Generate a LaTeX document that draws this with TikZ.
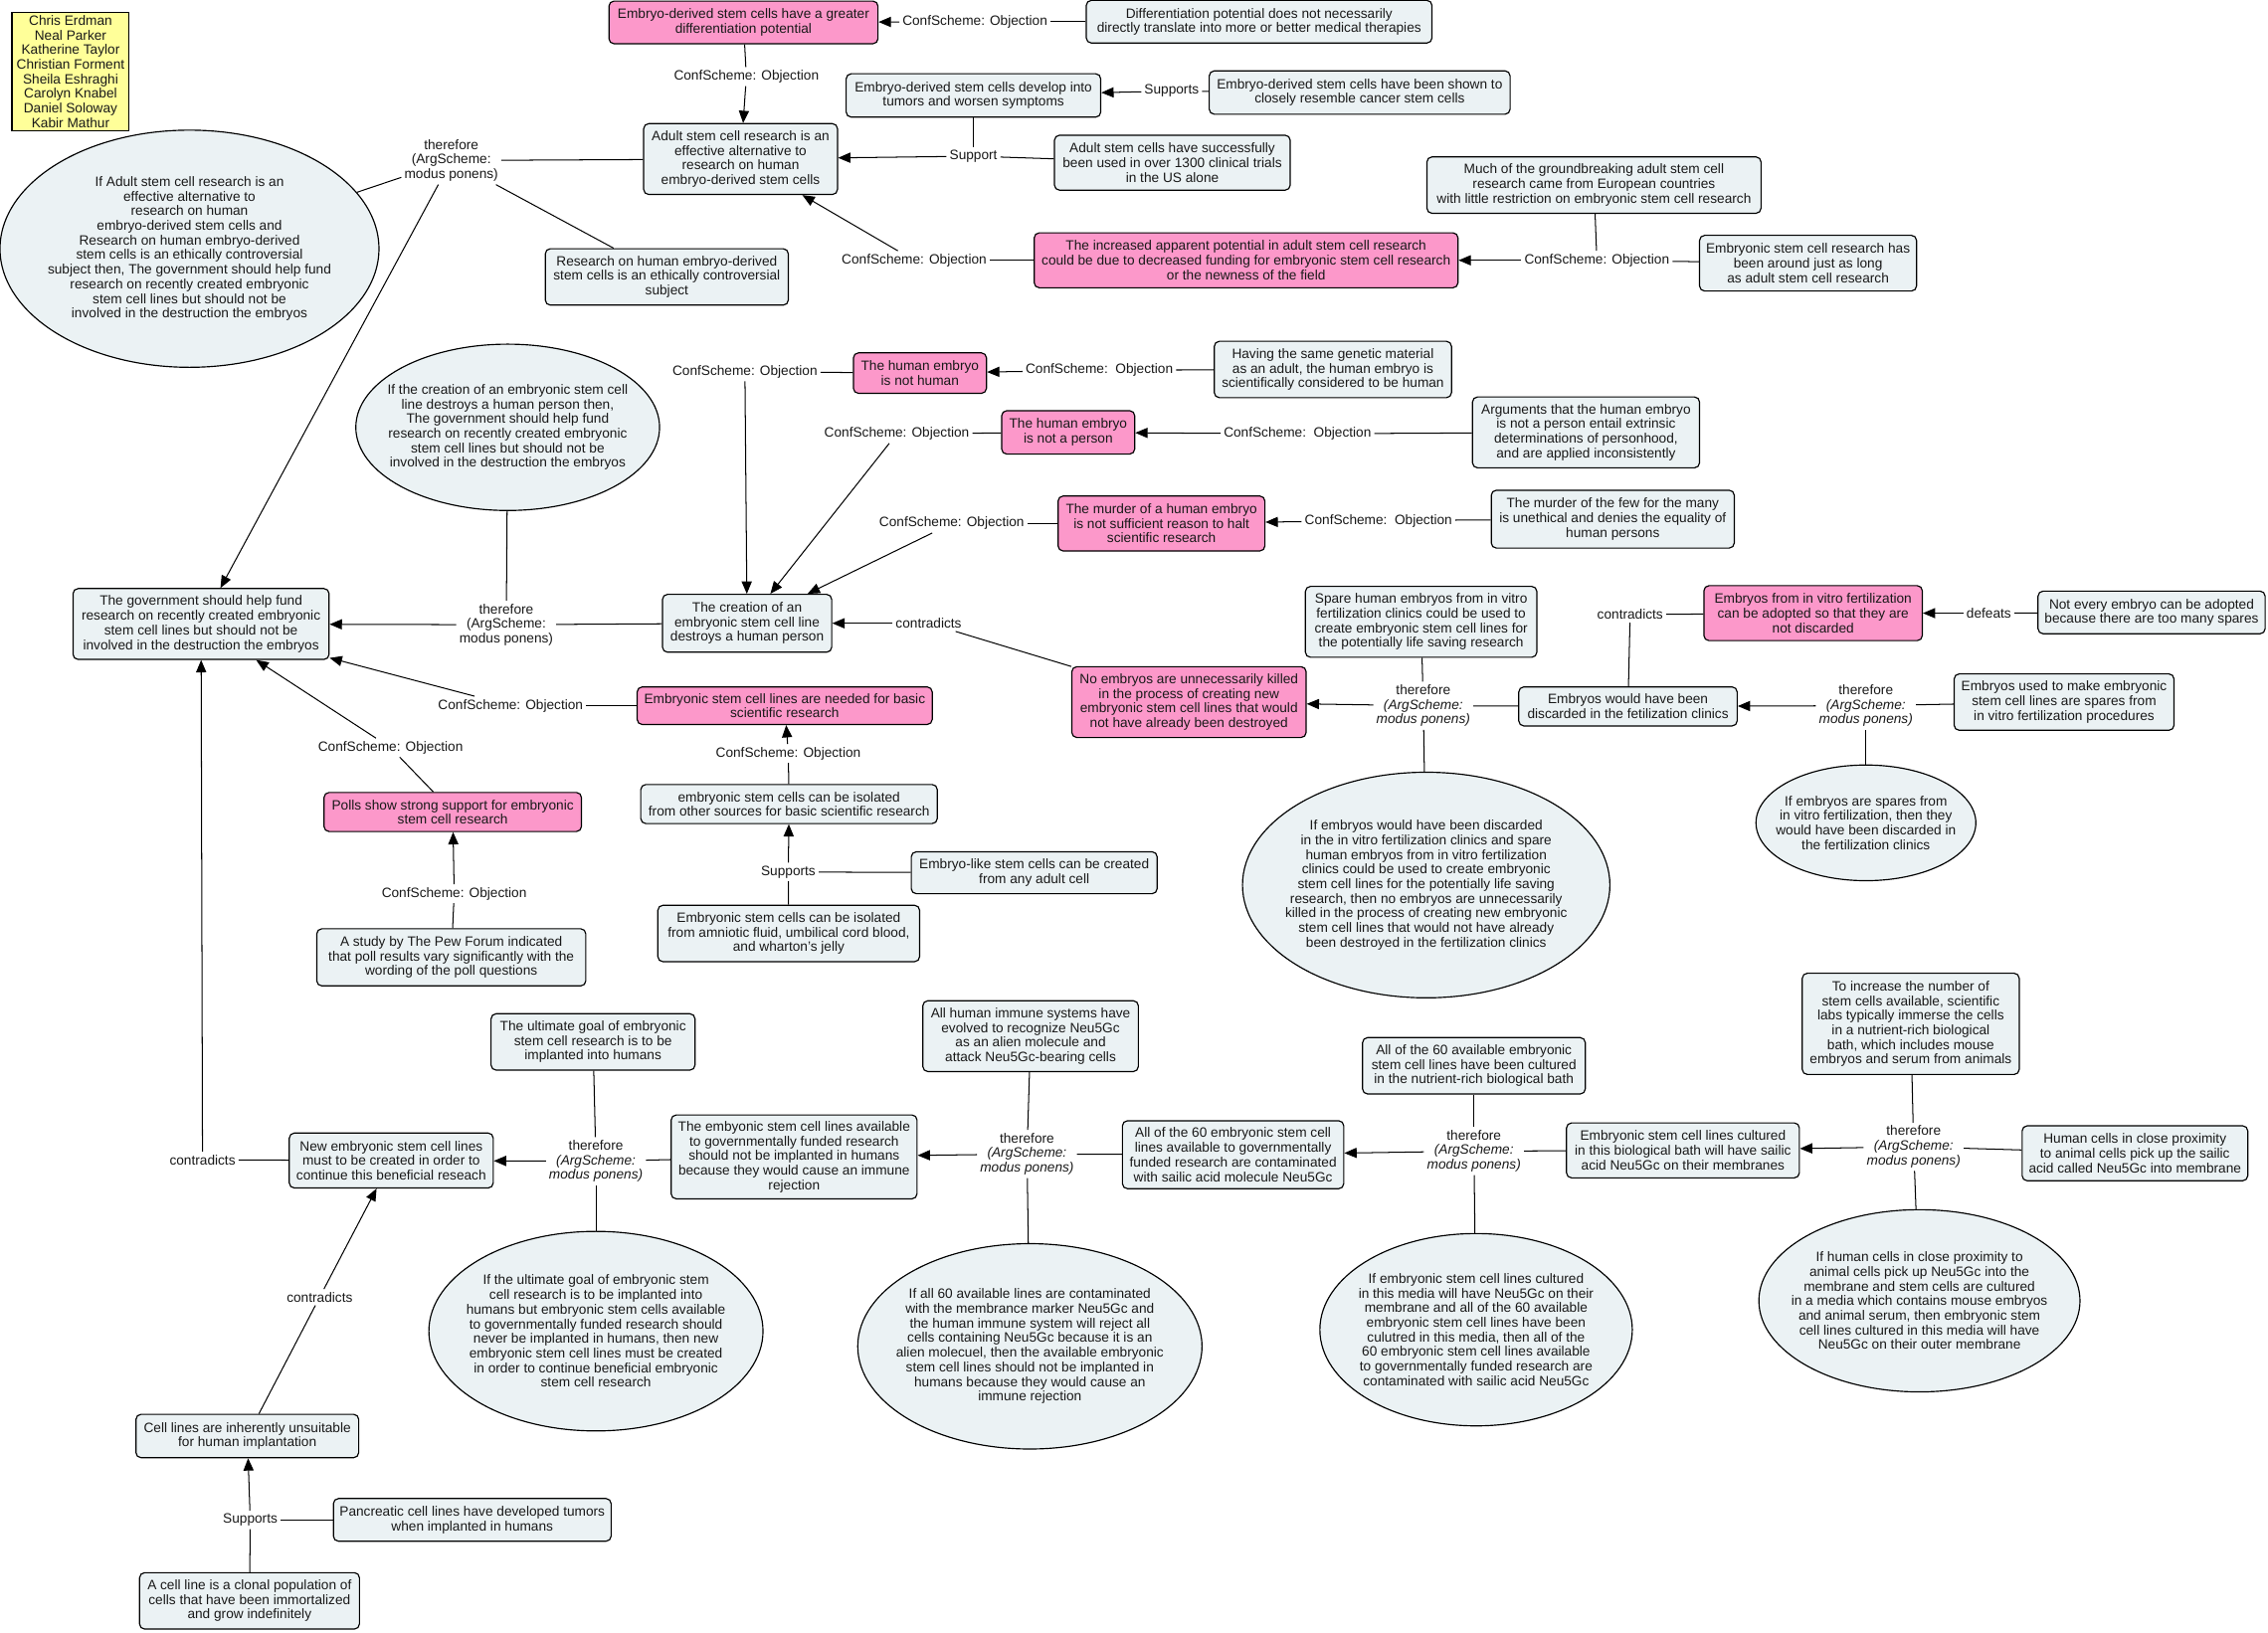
\documentclass[tikz,border=0pt]{standalone}
\usepackage{fontspec}
\setmainfont{Liberation Sans}
\usetikzlibrary{arrows.meta,shapes.geometric}
\newcommand{\mapnodefont}{\fontsize{9.4}{10.1}\selectfont}

\begin{document}
\begin{tikzpicture}[x=1pt, y=-1pt, every node/.style={font=\mapnodefont, text=inkcolor}]
\definecolor{boxcolor}{RGB}{235,242,244}
\definecolor{conflictcolor}{RGB}{252,152,202}
\definecolor{namecolor}{RGB}{255,255,153}
\definecolor{inkcolor}{RGB}{25,25,25}
\tikzset{
  claim/.style={draw, rounded corners=3.5, fill=boxcolor, align=center, inner sep=2, line width=0.8pt},
  conflict/.style={claim, fill=conflictcolor},
  argell/.style={draw, ellipse, fill=boxcolor, inner sep=0, line width=0.8pt},
  linktext/.style={align=center, inner sep=2},
  ln/.style={line width=0.7pt},
  arr/.style={ln, -{Triangle[length=8.5pt,width=7pt]}}
}
\fill[white] (0,0) rectangle (1568,1129);
\useasboundingbox (0,0) rectangle (1568,1129);

% Authors
\node[draw, fill=namecolor, align=center, inner sep=1, line width=0.8pt, minimum width=81, minimum height=82] (au) at (48.8,49.5)
  {Chris Erdman\\Neal Parker\\Katherine Taylor\\Christian Forment\\Sheila Eshraghi\\Carolyn Knabel\\Daniel Soloway\\Kabir Mathur};

% Top: adult stem cell research
\node[conflict, minimum width=186, minimum height=29.5] (n1) at (514,15.5) {Embryo-derived stem cells have a greater\\differentiation potential};
\node[claim, minimum width=239, minimum height=29.5] (n2) at (870.5,15) {Differentiation potential does not necessarily\\directly translate into more or better medical therapies};
\node[claim, minimum width=134, minimum height=49] (n3) at (512,110) {Adult stem cell research is an\\effective alternative to\\research on human\\embryo-derived stem cells};
\node[claim, minimum width=176, minimum height=30] (n4) at (673,66) {Embryo-derived stem cells develop into\\tumors and worsen symptoms};
\node[claim, minimum width=208, minimum height=30] (n5) at (940,64) {Embryo-derived stem cells have been shown to\\closely resemble cancer stem cells};
\node[claim, minimum width=163, minimum height=38] (n6) at (810.5,112.5) {Adult stem cells have successfully\\been used in over 1300 clinical trials\\in the US alone};
\node[claim, minimum width=168, minimum height=39] (n7) at (461,191.5) {Research on human embryo-derived\\stem cells is an ethically controversial\\subject};
\node[claim, minimum width=231, minimum height=39] (n22) at (1102,128) {Much of the groundbreaking adult stem cell\\research came from European countries\\with little restriction on embryonic stem cell research};
\node[conflict, minimum width=293, minimum height=38] (n23) at (861.5,180) {The increased apparent potential in adult stem cell research\\could be due to decreased funding for embryonic stem cell research\\or the newness of the field};
\node[claim, minimum width=150, minimum height=38.5] (n24) at (1250,182) {Embryonic stem cell research has\\been around just as long\\as adult stem cell research};
\node[argell, minimum width=262, minimum height=164] (e1) at (131,172) {};
\node[align=center] (e1t) at (e1) {If Adult stem cell research is an\\effective alternative to\\research on human\\embryo-derived stem cells and\\Research on human embryo-derived\\stem cells is an ethically controversial\\subject then, The government should help fund\\research on recently created embryonic\\stem cell lines but should not be\\involved in the destruction the embryos};

% Middle: the human embryo
\node[claim, minimum width=177, minimum height=49] (n8) at (139,431.5) {The government should help fund\\research on recently created embryonic\\stem cell lines but should not be\\involved in the destruction the embryos};
\node[argell, minimum width=210, minimum height=115] (e2) at (351,295.5) {};
\node[align=center] (e2t) at (e2) {If the creation of an embryonic stem cell\\line destroys a human person then,\\The government should help fund\\research on recently created embryonic\\stem cell lines but should not be\\involved in the destruction the embryos};
\node[claim, minimum width=117, minimum height=40] (n9) at (516.5,431) {The creation of an\\embryonic stem cell line\\destroys a human person};
\node[conflict, minimum width=92, minimum height=28] (n10) at (636,258) {The human embryo\\is not human};
\node[claim, minimum width=164, minimum height=39] (n11) at (921.5,255.5) {Having the same genetic material\\as an adult, the human embryo is\\scientifically considered to be human};
\node[conflict, minimum width=92, minimum height=30] (n12) at (738.5,299) {The human embryo\\is not a person};
\node[claim, minimum width=157, minimum height=49] (n13) at (1096.5,299) {Arguments that the human embryo\\is not a person entail extrinsic\\determinations of personhood,\\and are applied inconsistently};
\node[conflict, minimum width=143, minimum height=38] (n14) at (803,362) {The murder of a human embryo\\is not sufficient reason to halt\\scientific research};
\node[claim, minimum width=168, minimum height=40] (n15) at (1115,359) {The murder of the few for the many\\is unethical and denies the equality of\\human persons};
\node[conflict, minimum width=162, minimum height=49] (n16) at (822,485.5) {No embryos are unnecessarily killed\\in the process of creating new\\embryonic stem cell lines that would\\not have already been destroyed};
\node[claim, minimum width=160, minimum height=49] (n17) at (982.5,430) {Spare human embryos from in vitro\\fertilization clinics could be used to\\create embryonic stem cell lines for\\the potentially life saving research};
\node[claim, minimum width=151, minimum height=27] (n18) at (1125.5,488.5) {Embryos would have been\\discarded in the fetilization clinics};
\node[conflict, minimum width=151, minimum height=38] (n19) at (1253.5,424) {Embryos from in vitro fertilization\\can be adopted so that they are\\not discarded};
\node[claim, minimum width=157, minimum height=29.5] (n20) at (1487.5,423.5) {Not every embryo can be adopted\\because there are too many spares};
\node[claim, minimum width=152, minimum height=39] (n21) at (1427,485.5) {Embryos used to make embryonic\\stem cell lines are spares from\\in vitro fertilization procedures};
\node[argell, minimum width=254, minimum height=156] (e3) at (986,612) {};
\node[align=center] (e3t) at (e3) {If embryos would have been discarded\\in the in vitro fertilization clinics and spare\\human embryos from in vitro fertilization\\clinics could be used to create embryonic\\stem cell lines for the potentially life saving\\research, then no embryos are unnecessarily\\killed in the process of creating new embryonic\\stem cell lines that would not have already\\been destroyed in the fertilization clinics};
\node[argell, minimum width=152, minimum height=80] (e4) at (1290,569) {};
\node[align=center] (e4t) at (e4) {If embryos are spares from\\in vitro fertilization, then they\\would have been discarded in\\the fertilization clinics};

% Basic research and polls
\node[conflict, minimum width=204, minimum height=26] (n25) at (542.5,488) {Embryonic stem cell lines are needed for basic\\scientific research};
\node[claim, minimum width=205, minimum height=27] (n26) at (545.5,556) {embryonic stem cells can be isolated\\from other sources for basic scientific research};
\node[claim, minimum width=170, minimum height=29] (n27) at (715,603.5) {Embryo-like stem cells can be created\\from any adult cell};
\node[claim, minimum width=181, minimum height=39] (n28) at (545.3,645.5) {Embryonic stem cells can be isolated\\from amniotic fluid, umbilical cord blood,\\and wharton's jelly};
\node[conflict, minimum width=178, minimum height=27] (n29) at (313,561.5) {Polls show strong support for embryonic\\stem cell research};
\node[claim, minimum width=186, minimum height=39.5] (n30) at (312,662) {A study by The Pew Forum indicated\\that poll results vary significantly with the\\wording of the poll questions};

% Bottom: Neu5Gc chain
\node[claim, minimum width=141, minimum height=39] (n31) at (410,720.5) {The ultimate goal of embryonic\\stem cell research is to be\\implanted into humans};
\node[claim, minimum width=141, minimum height=38] (n32) at (270.5,802.5) {New embryonic stem cell lines\\must to be created in order to\\continue this beneficial reseach};
\node[claim, minimum width=170, minimum height=58] (n33) at (549,800) {The embyonic stem cell lines available\\to governmentally funded research\\should not be implanted in humans\\because they would cause an immune\\rejection};
\node[claim, minimum width=154, minimum height=30] (n34) at (171,993) {Cell lines are inherently unsuitable\\for human implantation};
\node[claim, minimum width=192, minimum height=29.5] (n35) at (326.5,1051) {Pancreatic cell lines have developed tumors\\when implanted in humans};
\node[claim, minimum width=152, minimum height=39] (n36) at (172.5,1107) {A cell line is a clonal population of\\cells that have been immortalized\\and grow indefinitely};
\node[argell, minimum width=231, minimum height=138] (e5) at (412,920.5) {};
\node[align=center] (e5t) at (e5) {If the ultimate goal of embryonic stem\\cell research is to be implanted into\\humans but embryonic stem cells available\\to governmentally funded research should\\never be implanted in humans, then new\\embryonic stem cell lines must be created\\in order to continue beneficial embryonic\\stem cell research};
\node[claim, minimum width=149, minimum height=49] (n37) at (712.5,716.5) {All human immune systems have\\evolved to recognize Neu5Gc\\as an alien molecule and\\attack Neu5Gc-bearing cells};
\node[argell, minimum width=238, minimum height=142] (e6) at (712,931) {};
\node[align=center] (e6t) at (e6) {If all 60 available lines are contaminated\\with the membrance marker Neu5Gc and\\the human immune system will reject all\\cells containing Neu5Gc because it is an\\alien molecuel, then the available embryonic\\stem cell lines should not be implanted in\\humans because they would cause an\\immune rejection};
\node[claim, minimum width=153, minimum height=47] (n38) at (852.5,798.5) {All of the 60 embryonic stem cell\\lines available to governmentally\\funded research are contaminated\\with sailic acid molecule Neu5Gc};
\node[claim, minimum width=154, minimum height=39] (n39) at (1019,737) {All of the 60 available embryonic\\stem cell lines have been cultured\\in the nutrient-rich biological bath};
\node[argell, minimum width=216, minimum height=133] (e7) at (1020.5,919.5) {};
\node[align=center] (e7t) at (e7) {If embryonic stem cell lines cultured\\in this media will have Neu5Gc on their\\membrane and all of the 60 available\\embryonic stem cell lines have been\\culutred in this media, then all of the\\60 embryonic stem cell lines available\\to governmentally funded research are\\contaminated with sailic acid Neu5Gc};
\node[claim, minimum width=161, minimum height=38] (n40) at (1163.5,795.5) {Embryonic stem cell lines cultured\\in this biological bath will have sailic\\acid Neu5Gc on their membranes};
\node[claim, minimum width=150, minimum height=70] (n41) at (1321,708) {To increase the number of\\stem cells available, scientific\\labs typically immerse the cells\\in a nutrient-rich biological\\bath, which includes mouse\\embryos and serum from animals};
\node[claim, minimum width=156, minimum height=38] (n42) at (1476,797.5) {Human cells in close proximity\\to animal cells pick up the sailic\\acid called Neu5Gc into membrane};
\node[argell, minimum width=222, minimum height=126] (e8) at (1327,899.5) {};
\node[align=center] (e8t) at (e8) {If human cells in close proximity to\\animal cells pick up Neu5Gc into the\\membrane and stem cells are cultured\\in a media which contains mouse embryos\\and animal serum, then embryonic stem\\cell lines cultured in this media will have\\Neu5Gc on their outer membrane};

% Link phrases
\node[linktext] (c1) at (674,15) {ConfScheme: Objection};
\node[linktext] (c2) at (516,53) {ConfScheme: Objection};
\node[linktext] (c3) at (810,63) {Supports};
\node[linktext] (c4) at (673,108) {Support};
\node[linktext] (c5) at (632,180) {ConfScheme: Objection};
\node[linktext] (c6) at (1104,180) {ConfScheme: Objection};
\node[linktext] (c7) at (312,111) {therefore\\(ArgScheme:\\modus ponens)};
\node[linktext] (c8) at (350,432) {therefore\\(ArgScheme:\\modus ponens)};
\node[linktext] (c9) at (515,257) {ConfScheme: Objection};
\node[linktext] (c10) at (760,256) {ConfScheme:~~Objection};
\node[linktext] (c11) at (620,300) {ConfScheme: Objection};
\node[linktext] (c12) at (897,300) {ConfScheme:~~Objection};
\node[linktext] (c13) at (658,362) {ConfScheme: Objection};
\node[linktext] (c14) at (953,360) {ConfScheme:~~Objection};
\node[linktext] (c15) at (642,431) {contradicts};
\node[linktext] (c16) at (984,488) {therefore\\\textit{(ArgScheme:}\\\textit{modus ponens)}};
\node[linktext] (c17) at (1127,425) {contradicts};
\node[linktext] (c18) at (1375,424) {defeats};
\node[linktext] (c19) at (1290,488) {therefore\\\textit{(ArgScheme:}\\\textit{modus ponens)}};
\node[linktext] (c20) at (353,488) {ConfScheme: Objection};
\node[linktext] (c21) at (545,521) {ConfScheme: Objection};
\node[linktext] (c22) at (545,603) {Supports};
\node[linktext] (c23) at (270,517) {ConfScheme: Objection};
\node[linktext] (c24) at (314,618) {ConfScheme: Objection};
\node[linktext] (c25) at (412,803) {therefore\\\textit{(ArgScheme:}\\\textit{modus ponens)}};
\node[linktext] (c26) at (140,802) {contradicts};
\node[linktext] (c27) at (221,897) {contradicts};
\node[linktext] (c28) at (173,1051) {Supports};
\node[linktext] (c29) at (710,798) {therefore\\\textit{(ArgScheme:}\\\textit{modus ponens)}};
\node[linktext] (c30) at (1019,796) {therefore\\\textit{(ArgScheme:}\\\textit{modus ponens)}};
\node[linktext] (c31) at (1323,793) {therefore\\\textit{(ArgScheme:}\\\textit{modus ponens)}};

% Plain connectors (source to link phrase)
\foreach \a/\b in {n2/c1, n1/c2, n5/c3, n4/c4, n6/c4, n23/c5, n22/c6, n24/c6,
  n3/c7, e1/c7, n7/c7, e2/c8, n9/c8, n10/c9, n11/c10, n12/c11, n13/c12,
  n14/c13, n15/c14, n16/c15, n17/c16, n18/c16, e3/c16, n18/c17, n19/c17,
  n20/c18, n21/c19, e4/c19, n25/c20, n26/c21, n28/c22, n27/c22, n29/c23,
  n30/c24, n31/c25, n33/c25, e5/c25, n32/c26, n34/c27, n36/c28, n35/c28,
  n37/c29, n38/c29, e6/c29, n39/c30, n40/c30, e7/c30, n41/c31, n42/c31, e8/c31}
  \draw[ln] (\a) -- (\b);

% Arrows (link phrase to target)
\foreach \a/\b in {c1/n1, c2/n3, c3/n4, c4/n3, c5/n3, c6/n23, c7/n8, c8/n8,
  c9/n9, c10/n10, c11/n9, c12/n12, c13/n9, c14/n14, c15/n9, c16/n16,
  c18/n19, c19/n18, c20/n8, c21/n25, c22/n26, c23/n8, c24/n29, c25/n32,
  c26/n8, c27/n32, c28/n34, c29/n33, c30/n38, c31/n40}
  \draw[arr] (\a) -- (\b);
\end{tikzpicture}
\end{document}
